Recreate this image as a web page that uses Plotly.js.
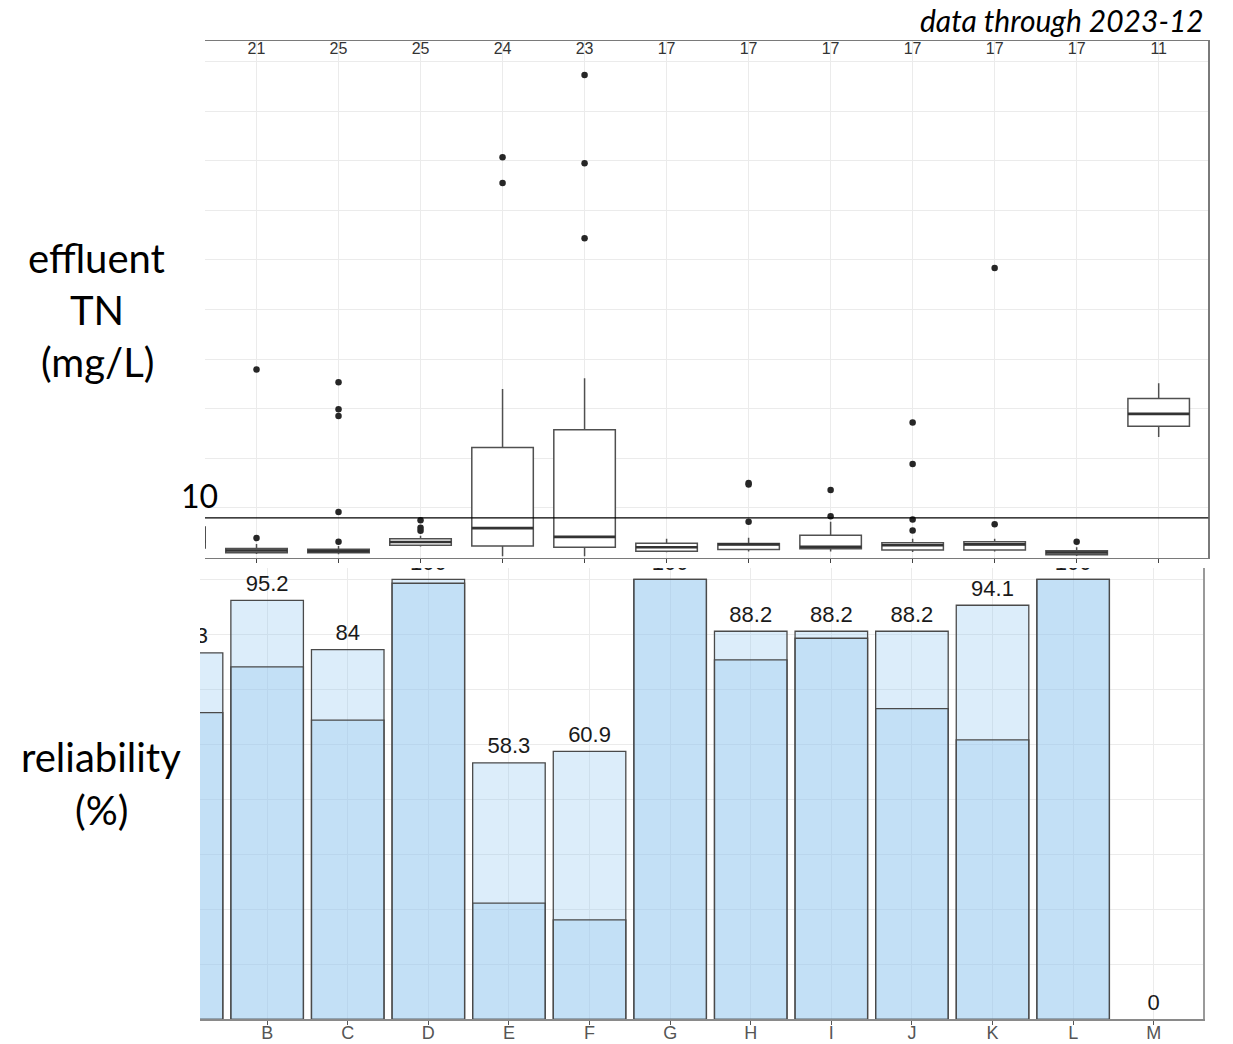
<!DOCTYPE html>
<html>
<head>
<meta charset="utf-8">
<script src="https://cdn.plot.ly/plotly-3.0.1.min.js"></script>
<style>html,body{margin:0;padding:0;background:#fff;}#chart{width:1233px;height:1044px;}</style>
</head>
<body>
<div id="chart"></div>
<script>
// ---- data ----
const categories = ['A','B','C','D','E','F','G','H','I','J','K','L','M'];
const nObs = [24, 21, 25, 25, 24, 23, 17, 17, 17, 17, 17, 17, 11];

// effluent TN box statistics (mg/L)
const tnLowerFence = [1.0, 0.9, 0.8, 2.8, 0.3, 0.3, 1.3, 1.5, 1.5, 1.4, 1.5, 0.4, 30.4];
const tnQ1         = [2.4, 1.2, 1.2, 3.1, 2.9, 2.6, 1.6, 2.0, 2.2, 1.9, 1.9, 0.7, 33.1];
const tnMedian     = [4.0, 1.75, 1.6, 3.9, 7.4, 5.2, 2.6, 3.3, 2.7, 3.1, 3.3, 1.25, 36.2];
const tnQ3         = [7.7, 2.3, 2.1, 4.7, 27.7, 32.2, 3.6, 3.5, 5.6, 3.7, 4.0, 1.7, 40.1];
const tnUpperFence = [15.0, 3.4, 2.9, 5.5, 42.5, 45.2, 4.7, 5.0, 9.0, 4.7, 4.7, 2.6, 43.9];

// outliers
const outlierCat = ['B','B','C','C','C','C','C','D','D','D','E','E','F','F','F','H','H','H','I','I','J','J','J','J','K','K','L'];
const outlierVal = [47.4, 4.9, 44.2, 37.4, 35.7, 11.5, 4.0, 9.4, 7.5, 6.75, 100.9, 94.4, 121.6, 99.4, 80.5, 18.8, 18.4, 9.0, 17.0, 10.4, 34.0, 23.6, 9.6, 6.8, 73.0, 8.4, 4.0];

const tnLimit = 10;

// reliability (%)
const reliabilityTotal = [83.3, 95.2, 84, 100, 58.3, 60.9, 100, 88.2, 88.2, 88.2, 94.1, 100, 0];
const reliabilityInner = [69.7, 80.1, 68.0, 99.1, 26.4, 22.6, 100, 81.7, 86.6, 70.6, 63.5, 100, 0];

// ---- build ----
const idx = categories.map((c, i) => i);
const catIndex = c => categories.indexOf(c);
const boxHalf = 0.375;

const medX = [], medY = [];
idx.forEach(i => { medX.push(i - boxHalf, i + boxHalf, null); medY.push(tnMedian[i], tnMedian[i], null); });

const fill = 'rgba(139,197,238,0.3)';
const edge = '#4a4a4a';
const nLabelY = 127.9;     // label row near the top of the TN panel
const labelLift = 0.9;     // small lift of bar labels above bar tops
const edgeWidth = v => v > 0 ? 1.3 : 0;

const traces = [
  {type:'box', x: idx, q1: tnQ1, median: tnMedian, q3: tnQ3, lowerfence: tnLowerFence, upperfence: tnUpperFence,
   width: 0.75, whiskerwidth: 0, boxpoints: false, fillcolor: 'white', line: {color: '#505050', width: 1.5},
   xaxis: 'x', yaxis: 'y', hoverinfo: 'skip'},
  {type:'scatter', mode:'lines', x: medX, y: medY, line: {color:'#333', width: 2.6}, xaxis:'x', yaxis:'y', hoverinfo:'skip'},
  {type:'scatter', mode:'markers', x: outlierCat.map(catIndex), y: outlierVal, marker: {size: 6.5, color: '#262626'},
   xaxis:'x', yaxis:'y', hoverinfo:'skip'},
  {type:'scatter', mode:'text', x: idx, y: idx.map(() => nLabelY), text: nObs.map(String), textposition: 'middle center',
   textfont: {family: 'Liberation Sans, Arial, sans-serif', size: 16, color: '#333'}, cliponaxis: true,
   xaxis:'x', yaxis:'y', hoverinfo:'skip'},
  {type:'bar', x: idx, y: reliabilityTotal, width: 0.9,
   marker: {color: fill, line: {color: edge, width: reliabilityTotal.map(edgeWidth)}},
   xaxis:'x2', yaxis:'y2', hoverinfo:'skip'},
  {type:'bar', x: idx, y: reliabilityInner, width: 0.9,
   marker: {color: fill, line: {color: edge, width: reliabilityInner.map(edgeWidth)}},
   xaxis:'x2', yaxis:'y2', hoverinfo:'skip'},
  {type:'scatter', mode:'text', x: idx, y: reliabilityTotal.map(v => v + labelLift), text: reliabilityTotal.map(String), textposition: 'top center',
   textfont: {family: 'Liberation Sans, Arial, sans-serif', size: 22, color: '#1a1a1a'}, cliponaxis: true,
   xaxis:'x2', yaxis:'y2', hoverinfo:'skip'}
];

const H = 1044, W = 1233;
const py = p => 1 - p / H;
const px = p => p / W;
const titleFont = {family: 'Lato, sans-serif', size: 40, color: '#000'};

const layout = {
  width: W, height: H, margin: {l:0, r:0, t:0, b:0},
  paper_bgcolor: '#fff', plot_bgcolor: '#fff', showlegend: false, barmode: 'overlay',
  xaxis: {domain: [px(205), px(1208.3)], range: [0.372, 12.605], anchor: 'y',
    tickvals: idx, showticklabels: false, ticks: 'outside', ticklen: 4, tickwidth: 1, tickcolor: '#444',
    showgrid: true, gridcolor: '#ebebeb', gridwidth: 1, zeroline: false,
    showline: true, linecolor: '#7a7a7a', linewidth: 1.5, mirror: true},
  yaxis: {domain: [py(557.5), py(41)], range: [0, 130.2], anchor: 'x', side: 'right',
    tick0: 0, dtick: 12.5, showticklabels: false, ticks: '',
    showgrid: true, gridcolor: '#ebebeb', gridwidth: 1, zeroline: false,
    showline: true, linecolor: '#7a7a7a', linewidth: 1.5},
  xaxis2: {domain: [px(200), px(1203.3)], range: [0.167, 12.615], anchor: 'y2',
    tickvals: idx, ticktext: categories, ticks: 'outside', ticklen: 4, tickwidth: 1, tickcolor: '#555',
    ticklabelstandoff: -7,
    tickfont: {family: 'Liberation Sans, Arial, sans-serif', size: 18, color: '#555'},
    showgrid: true, gridcolor: '#ebebeb', gridwidth: 1, zeroline: false,
    showline: true, linecolor: '#8a8a8a', linewidth: 1.5},
  yaxis2: {domain: [py(1019.3), py(568)], range: [0, 102.57], anchor: 'x2', side: 'right',
    tick0: 0, dtick: 12.5, showticklabels: false, ticks: '',
    showgrid: true, gridcolor: '#ebebeb', gridwidth: 1, zeroline: false,
    showline: true, linecolor: '#9a9a9a', linewidth: 2},
  shapes: [
    {type: 'line', xref: 'x domain', x0: 0, x1: 1, yref: 'y', y0: tnLimit, y1: tnLimit, line: {color: '#000', width: 1.3}}
  ],
  annotations: [
    {text: 'effluent', x: px(96), y: py(258), xref: 'paper', yref: 'paper', showarrow: false, xanchor: 'center', yanchor: 'middle', font: titleFont},
    {text: 'TN', x: px(97), y: py(310), xref: 'paper', yref: 'paper', showarrow: false, xanchor: 'center', yanchor: 'middle', font: titleFont},
    {text: '(mg/L)', x: px(97), y: py(362), xref: 'paper', yref: 'paper', showarrow: false, xanchor: 'center', yanchor: 'middle', font: titleFont},
    {text: 'reliability', x: px(101), y: py(757), xref: 'paper', yref: 'paper', showarrow: false, xanchor: 'center', yanchor: 'middle', font: titleFont},
    {text: '(%)', x: px(101), y: py(810), xref: 'paper', yref: 'paper', showarrow: false, xanchor: 'center', yanchor: 'middle', font: titleFont},
    {text: String(tnLimit), x: px(200), y: py(495), xref: 'paper', yref: 'paper', showarrow: false, xanchor: 'center', yanchor: 'middle',
     font: {family: 'Lato, sans-serif', size: 32, color: '#000'}},
    {text: '<i>data through 2023-12</i>', x: px(1206), y: py(20), xref: 'paper', yref: 'paper', showarrow: false, xanchor: 'right', yanchor: 'middle',
     font: {family: 'Lato, sans-serif', size: 30, color: '#000'}}
  ]
};

Plotly.newPlot('chart', traces, layout, {staticPlot: true, displayModeBar: false});
</script>
</body>
</html>
